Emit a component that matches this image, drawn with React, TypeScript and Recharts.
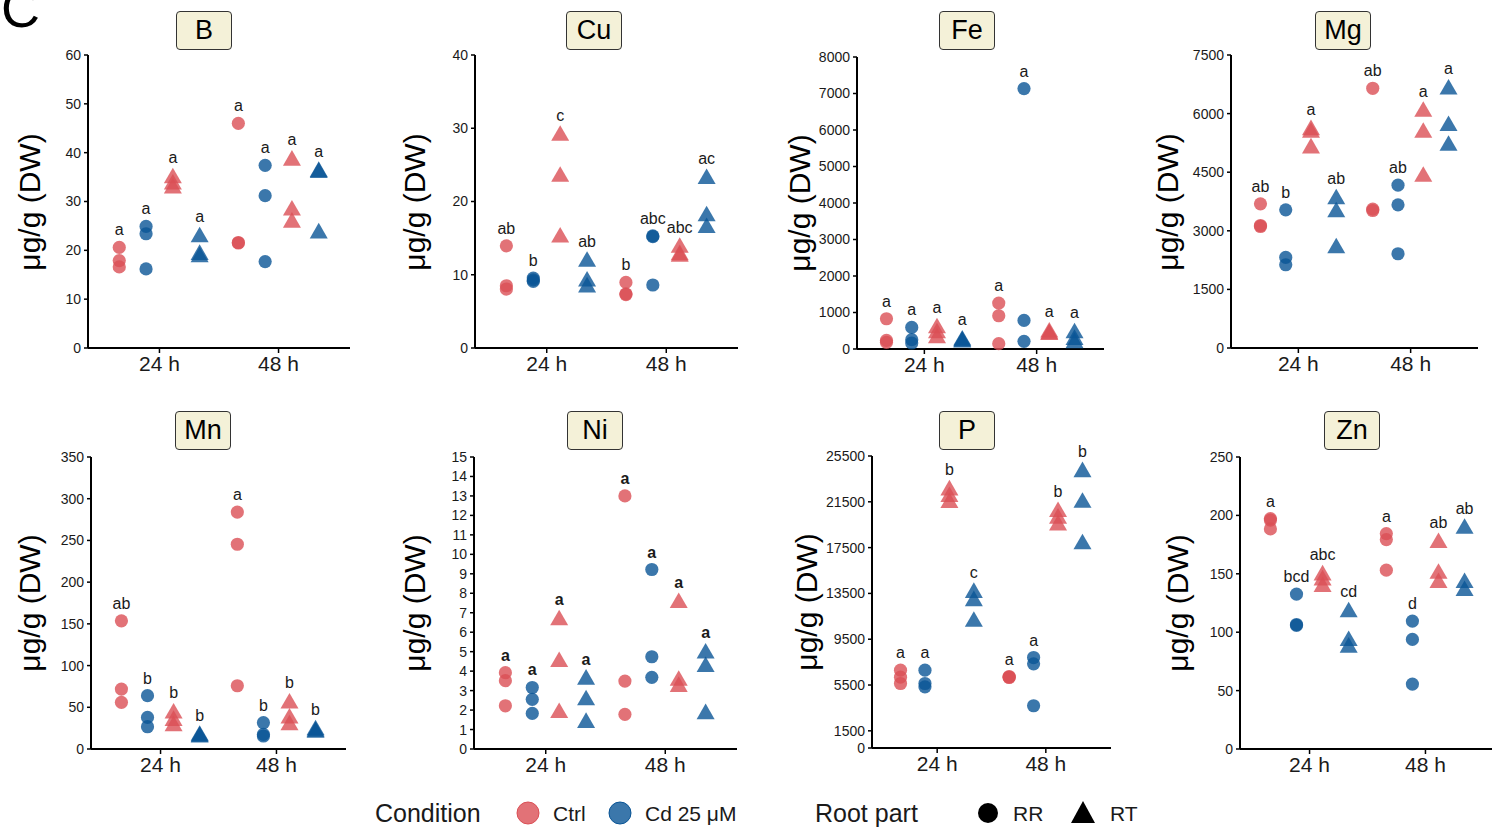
import React from "react";
import { ScatterChart, Scatter, XAxis, YAxis } from "recharts";

const times = ["24 h", "48 h"];
const conditions = ["Ctrl", "Cd 25 μM"];
const rootParts = ["RR", "RT"];

// every element: 8 groups, per time in the order Ctrl RR, Cd RR, Ctrl RT, Cd RT
const boron = [
  [20.6, 17.9, 16.6], [24.9, 23.4, 16.2], [34.8, 33.5, 32.7], [22.7, 19.1, 18.6],
  [46.0, 21.6, 21.5], [37.4, 31.2, 17.7], [38.4, 28.2, 25.7], [36.1, 35.9, 23.5],
];
const boronLetters = ["a", "a", "a", "a", "a", "a", "a", "a"];
const boronTicks = [0, 10, 20, 30, 40, 50, 60];

const copper = [
  [13.95, 8.5, 8.05], [9.55, 9.3, 9.1], [29.0, 23.4, 15.1], [11.8, 9.1, 8.3],
  [8.95, 7.4, 7.3], [15.3, 15.2, 8.6], [13.7, 12.7, 12.5], [23.1, 18.0, 16.4],
];
const copperLetters = ["ab", "b", "c", "ab", "b", "abc", "abc", "ac"];
const copperTicks = [0, 10, 20, 30, 40];

const iron = [
  [829, 237, 182], [592, 255, 164], [574, 437, 300], [237, 210, 182],
  [1257, 911, 146], [7134, 784, 210], [456, 410, 392], [437, 255, 164],
];
const ironLetters = ["a", "a", "a", "a", "a", "a", "a", "a"];
const ironTicks = [0, 1000, 2000, 3000, 4000, 5000, 6000, 7000, 8000];

const magnesium = [
  [3690, 3136, 3111], [3537, 2318, 2131], [5582, 5514, 5114], [3810, 3477, 2557],
  [6648, 3554, 3520], [4168, 3665, 2412], [6051, 5514, 4389], [6622, 5685, 5182],
];
const magnesiumLetters = ["ab", "b", "a", "ab", "ab", "ab", "a", "a"];
const magnesiumTicks = [0, 1500, 3000, 4500, 6000, 7500];

const manganese = [
  [153.6, 71.8, 55.9], [63.9, 37.9, 26.7], [42.7, 33.9, 27.5], [16, 14.8, 14],
  [284, 245.4, 75.8], [31.5, 17.6, 15.6], [54.7, 36.7, 28.7], [22.7, 20.8, 19.6],
];
const manganeseLetters = ["ab", "b", "b", "b", "a", "b", "b", "b"];
const manganeseTicks = [0, 50, 100, 150, 200, 250, 300, 350];

const nickel = [
  [3.92, 3.51, 2.22], [3.16, 2.55, 1.83], [6.62, 4.48, 1.86], [3.57, 2.51, 1.35],
  [13.0, 3.49, 1.78], [9.22, 4.74, 3.68], [7.51, 3.51, 3.2], [4.91, 4.22, 1.8],
];
const nickelLetters = ["a", "a", "a", "a", "a", "a", "a", "a"];
const nickelTicks = [0, 1, 2, 3, 4, 5, 6, 7, 8, 9, 10, 11, 12, 13, 14, 15];

const phosphorus = [
  [6796, 6186, 5634], [6796, 5634, 5344], [22509, 21928, 21405], [13563, 12837, 11036],
  [6244, 6186, 6157], [7900, 7348, 3688], [20621, 20040, 19459], [24106, 21434, 17804],
];
const phosphorusLetters = ["a", "a", "b", "c", "a", "a", "b", "b"];
const phosphorusTicks = [0, 1500, 5500, 9500, 13500, 17500, 21500, 25500];

const zinc = [
  [197.3, 196, 188.4], [132.6, 106.6, 105.8], [148.8, 144.5, 138.8], [117.2, 92.6, 86.9],
  [184.4, 179.3, 153.1], [109.5, 93.8, 55.6], [176.5, 150.2, 142.2], [188.7, 142.2, 135.4],
];
const zincLetters = ["a", "bcd", "abc", "cd", "a", "d", "ab", "ab"];
const zincTicks = [0, 50, 100, 150, 200, 250];

const panels = [
  { name: "B", values: boron, letters: boronLetters, ticks: boronTicks, axisX: 88, axisEnd: 350, top: 55, bottom: 348, titleX: 204, labelX: 30, bold: false },
  { name: "Cu", values: copper, letters: copperLetters, ticks: copperTicks, axisX: 475, axisEnd: 738, top: 55, bottom: 348, titleX: 594, labelX: 415, bold: false },
  { name: "Fe", values: iron, letters: ironLetters, ticks: ironTicks, axisX: 857, axisEnd: 1104, top: 57, bottom: 349, titleX: 967, labelX: 800, bold: false },
  { name: "Mg", values: magnesium, letters: magnesiumLetters, ticks: magnesiumTicks, axisX: 1231, axisEnd: 1478, top: 55, bottom: 348, titleX: 1343, labelX: 1168, bold: false },
  { name: "Mn", values: manganese, letters: manganeseLetters, ticks: manganeseTicks, axisX: 91, axisEnd: 346, top: 457, bottom: 749, titleX: 203, labelX: 30, bold: false },
  { name: "Ni", values: nickel, letters: nickelLetters, ticks: nickelTicks, axisX: 474, axisEnd: 737, top: 457, bottom: 749, titleX: 595, labelX: 415, bold: true },
  { name: "P", values: phosphorus, letters: phosphorusLetters, ticks: phosphorusTicks, axisX: 872, axisEnd: 1111, top: 456, bottom: 748, titleX: 967, labelX: 807, bold: false },
  { name: "Zn", values: zinc, letters: zincLetters, ticks: zincTicks, axisX: 1240, axisEnd: 1495, top: 457, bottom: 749, titleX: 1352, labelX: 1178, bold: false },
];

const FONT = "'Liberation Sans', Arial, sans-serif";
const TEXT = "#1a1a1a";
const RED = "#DB4F55";
const BLUE = "#0A5596";
const dodge = [-0.3375, -0.1125, 0.1125, 0.3375];
const Y_AXIS_W = 70;
const TOP_PAD = 30;
const X_AXIS_H = 40;

const circleShape = (color: string) => (props: any) => (
  <circle cx={props.cx} cy={props.cy} r={6.6} fill={color} fillOpacity={0.8} />
);

const triangleShape = (color: string) => (props: any) => {
  const { cx, cy } = props;
  const s = 18;
  const h = 15.6;
  const d = `M${cx},${cy - (2 * h) / 3} L${cx + s / 2},${cy + h / 3} L${cx - s / 2},${cy + h / 3} Z`;
  return <path d={d} fill={color} fillOpacity={0.8} />;
};

const letterShape = (bold: boolean) => (props: any) => (
  <text
    x={props.cx}
    y={props.cy - (props.payload.tri ? 15 : 12)}
    textAnchor="middle"
    fontSize={16}
    fontWeight={bold ? "bold" : "normal"}
    fill={TEXT}
    fontFamily={FONT}
  >
    {props.payload.letter}
  </text>
);

function Panel({ p }: { p: (typeof panels)[number] }) {
  const width = p.axisEnd - p.axisX + Y_AXIS_W + 2;
  const height = p.bottom - p.top + TOP_PAD + X_AXIS_H;
  const yMax = p.ticks[p.ticks.length - 1];

  const groups = [0, 1, 2, 3].map((g) => {
    const cond = g % 2;
    const part = Math.floor(g / 2);
    const data = times.flatMap((_, ti) =>
      p.values[ti * 4 + g].map((v) => ({ x: ti + 1 + dodge[g], y: v }))
    );
    return { cond, part, data, key: `${conditions[cond]}-${rootParts[part]}` };
  });

  const letterData = p.letters.map((letter, i) => {
    const ti = Math.floor(i / 4);
    const g = i % 4;
    return {
      x: ti + 1 + dodge[g],
      y: Math.max(...p.values[i]),
      letter,
      tri: Math.floor(g / 2) === 1,
    };
  });

  return (
    <>
      <div
        style={{
          position: "absolute",
          left: p.axisX - Y_AXIS_W,
          top: p.top - TOP_PAD,
        }}
      >
        <ScatterChart
          width={width}
          height={height}
          margin={{ top: TOP_PAD, right: 2, bottom: 0, left: 0 }}
        >
          <XAxis
            type="number"
            dataKey="x"
            domain={[0.4, 2.6]}
            ticks={[1, 2]}
            allowDataOverflow
            height={X_AXIS_H}
            tickFormatter={(v) => times[v - 1]}
            tick={{ fontSize: 21, fill: TEXT }}
            axisLine={{ stroke: "#000", strokeWidth: 2 }}
            tickLine={{ stroke: "#000", strokeWidth: 1.5 }}
            tickSize={5}
            tickMargin={3}
          />
          <YAxis
            type="number"
            dataKey="y"
            domain={[0, yMax]}
            ticks={p.ticks}
            interval={0}
            width={Y_AXIS_W}
            tick={{ fontSize: 14, fill: TEXT }}
            axisLine={{ stroke: "#000", strokeWidth: 2 }}
            tickLine={{ stroke: "#000", strokeWidth: 1.5 }}
            tickSize={4}
            tickMargin={3}
          />
          {groups.map((gr) => (
            <Scatter
              key={gr.key}
              name={gr.key}
              data={gr.data}
              isAnimationActive={false}
              shape={
                gr.part === 0
                  ? circleShape(gr.cond === 0 ? RED : BLUE)
                  : triangleShape(gr.cond === 0 ? RED : BLUE)
              }
            />
          ))}
          <Scatter
            name="letters"
            data={letterData}
            isAnimationActive={false}
            shape={letterShape(p.bold)}
          />
        </ScatterChart>
      </div>
      <div
        style={{
          position: "absolute",
          left: p.titleX - 28,
          top: p.top < 200 ? 11 : 411,
          width: 56,
          height: 39,
          boxSizing: "border-box",
          border: "1px solid #333",
          borderRadius: 4,
          background: "#F4F1D8",
          fontSize: 27,
          lineHeight: "37px",
          textAlign: "center",
          color: "#000",
        }}
      >
        {p.name}
      </div>
      <div
        style={{
          position: "absolute",
          left: p.labelX,
          top: (p.top + p.bottom) / 2,
          transform: "translate(-50%, -50%) rotate(-90deg)",
          whiteSpace: "nowrap",
          fontSize: 30,
          color: "#000",
        }}
      >
        μg/g (DW)
      </div>
    </>
  );
}

export default function App() {
  return (
    <div
      style={{
        position: "absolute",
        left: 0,
        top: 0,
        width: 1492,
        height: 831,
        overflow: "hidden",
        background: "#fff",
        fontFamily: FONT,
      }}
    >
      {panels.map((p) => (
        <Panel key={p.name} p={p} />
      ))}
      <svg
        width={1492}
        height={831}
        style={{ position: "absolute", left: 0, top: 0, pointerEvents: "none" }}
      >
        <text x={1} y={27} fontSize={54} fill="#000" fontFamily={FONT}>
          C
        </text>
        <text x={375} y={822} fontSize={25} fill={TEXT} fontFamily={FONT}>
          Condition
        </text>
        <circle cx={528} cy={813} r={11} fill={RED} fillOpacity={0.8} stroke={RED} strokeWidth={1} />
        <text x={553} y={821} fontSize={21} fill={TEXT} fontFamily={FONT}>
          {conditions[0]}
        </text>
        <circle cx={620} cy={813} r={11} fill={BLUE} fillOpacity={0.8} stroke={BLUE} strokeWidth={1} />
        <text x={645} y={821} fontSize={21} fill={TEXT} fontFamily={FONT}>
          {conditions[1]}
        </text>
        <text x={815} y={822} fontSize={25} fill={TEXT} fontFamily={FONT}>
          Root part
        </text>
        <circle cx={988} cy={813} r={10} fill="#000" />
        <text x={1013} y={821} fontSize={21} fill={TEXT} fontFamily={FONT}>
          {rootParts[0]}
        </text>
        <path d="M1083,801 L1095,823 L1071,823 Z" fill="#000" />
        <text x={1110} y={821} fontSize={21} fill={TEXT} fontFamily={FONT}>
          {rootParts[1]}
        </text>
      </svg>
    </div>
  );
}
